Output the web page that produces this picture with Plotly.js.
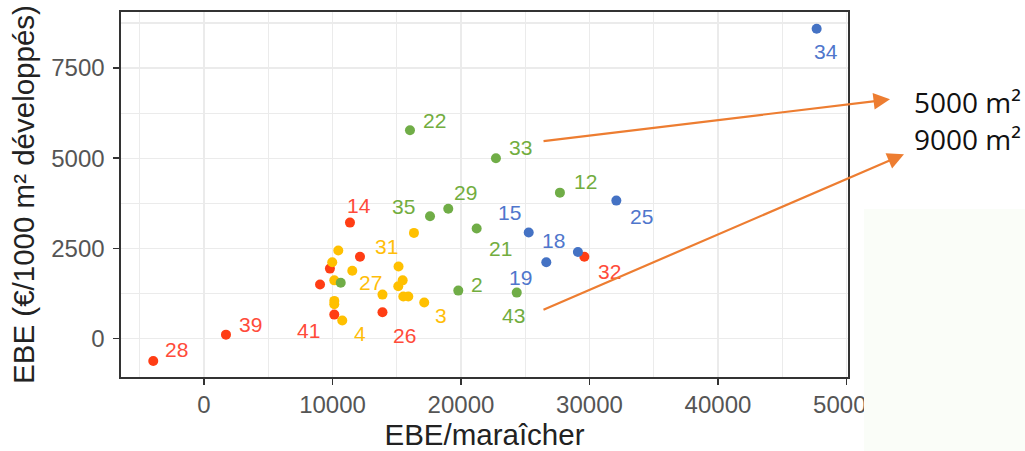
<!DOCTYPE html>
<html>
<head>
<meta charset="utf-8">
<script src="https://cdn.plot.ly/plotly-3.0.1.min.js"></script>
<style>html,body{margin:0;padding:0;background:#fff;}#chart{width:1025px;height:451px;}</style>
</head>
<body>
<div id="chart"></div>
<script>
// ---- data ----
const redX = [-3950, 1710, 10140, 9800, 9030, 11360, 12140, 13890, 29600];
const redY = [-620, 110, 665, 1940, 1500, 3215, 2270, 730, 2270];
const redLab = ["28", "39", "41", "", "", "14", "", "26", "32"];

const yellowX = [10450, 9980, 10140, 10140, 10140, 10760, 11540, 13890, 15140, 15460, 15120, 15510, 15900, 16340, 17140];
const yellowY = [2440, 2115, 1615, 1045, 950, 500, 1880, 1220, 2000, 1615, 1450, 1165, 1165, 2930, 1000];
const yellowLab = ["", "", "", "", "", "4", "27", "", "31", "", "", "", "", "", "3"];

const greenX = [10640, 17590, 19010, 21220, 19790, 16030, 27700, 24340, 22720];
const greenY = [1550, 3390, 3600, 3050, 1330, 5775, 4045, 1275, 5000];
const greenLab = ["", "35", "29", "21", "2", "22", "12", "43", "33"];

const blueX = [47680, 32090, 25270, 26640, 29100];
const blueY = [8590, 3825, 2940, 2115, 2400];
const blueLab = ["34", "25", "15", "19", "18"];

const xTickVals = [0, 10000, 20000, 30000, 40000, 50000];
const xTickText = ["0", "10000", "20000", "30000", "40000", "50000"];
const yTickVals = [0, 2500, 5000, 7500];
const yTickText = ["0", "2500", "5000", "7500"];

const xTitle = "EBE/maraîcher";
const yTitle = "EBE (€/1000 m² développés)";
const sideLabels = ["5000 m²", "9000 m²"];

// ---- label placement (pixel offsets from each point: right, down) ----
const labelOffsets = {
  "28": [23, -11], "39": [25, -10], "41": [-26, 16], "14": [9, -17], "26": [22, 23], "32": [25, 15],
  "4": [18, 13], "27": [18, 12], "31": [-12, -20], "3": [17, 13],
  "35": [-27, -10], "29": [17, -16], "21": [24, 20], "2": [19, -6], "22": [25, -10], "12": [26, -11], "43": [-3, 23], "33": [25, -11],
  "34": [9, 23], "25": [25, 16], "15": [-19, -20], "19": [-26, 15], "18": [-24, -12]
};

const series = [
  {x: redX, y: redY, lab: redLab, color: "#FF3D14", textColor: "#FF4B3A"},
  {x: yellowX, y: yellowY, lab: yellowLab, color: "#FFC000", textColor: "#FFBE0A"},
  {x: greenX, y: greenY, lab: greenLab, color: "#70AD47", textColor: "#72AD3E"},
  {x: blueX, y: blueY, lab: blueLab, color: "#4472C4", textColor: "#4F76CC"}
];

const traces = series.map(s => ({
  type: "scatter", mode: "markers", x: s.x, y: s.y,
  marker: {color: s.color, size: 10},
  hoverinfo: "x+y", showlegend: false, cliponaxis: false
}));

const annotations = [];
series.forEach(s => {
  s.lab.forEach((t, i) => {
    if (!t) return;
    const off = labelOffsets[t] || [15, -10];
    annotations.push({
      x: s.x[i], y: s.y[i], xref: "x", yref: "y", text: t, showarrow: false,
      xshift: off[0], yshift: -off[1], xanchor: "center", yanchor: "middle",
      font: {family: "Liberation Sans, Arial, sans-serif", size: 21, color: s.textColor}
    });
  });
});

// arrows out of the plot toward the side labels
const arrowColor = "#ED7D31";
annotations.push({
  x: 1.0578, y: 0.7608, xref: "paper", yref: "paper", text: "", showarrow: true,
  ax: -348, ay: 42, axref: "pixel", ayref: "pixel",
  arrowhead: 2, arrowsize: 1.5, arrowwidth: 2.2, arrowcolor: arrowColor
});
annotations.push({
  x: 1.0770, y: 0.6101, xref: "paper", yref: "paper", text: "", showarrow: true,
  ax: -362, ay: 156, axref: "pixel", ayref: "pixel",
  arrowhead: 2, arrowsize: 1.5, arrowwidth: 2.2, arrowcolor: arrowColor
});
annotations.push({
  x: 1.088, y: 0.7542, xref: "paper", yref: "paper", text: sideLabels[0], showarrow: false,
  xanchor: "left", yanchor: "middle",
  font: {family: "Open Sans, Noto Sans, sans-serif", size: 28, color: "#111"}
});
annotations.push({
  x: 1.088, y: 0.652, xref: "paper", yref: "paper", text: sideLabels[1], showarrow: false,
  xanchor: "left", yanchor: "middle",
  font: {family: "Open Sans, Noto Sans, sans-serif", size: 28, color: "#111"}
});

const tickFont = {family: "Liberation Sans, Arial, sans-serif", size: 24, color: "#555"};
const titleFont = {family: "Liberation Sans, Arial, sans-serif", size: 29.5, color: "#222"};

const layout = {
  width: 1025, height: 451,
  margin: {l: 121, r: 177, t: 12, b: 74, pad: 0},
  paper_bgcolor: "#fff", plot_bgcolor: "#fff",
  showlegend: false,
  xaxis: {
    range: [-6460, 50120], tickmode: "array", tickvals: xTickVals, ticktext: xTickText,
    showgrid: true, gridcolor: "#ebebeb", gridwidth: 1.2,
    minor: {dtick: 5000, tick0: 0, showgrid: true, gridcolor: "#ebebeb", gridwidth: 1.2},
    zeroline: false, showline: true, mirror: true, linecolor: "#333", linewidth: 1.6,
    ticks: "outside", ticklen: 6, tickcolor: "#333", tickwidth: 1.5,
    tickfont: tickFont,
    title: {text: xTitle, font: titleFont, standoff: 3}
  },
  yaxis: {
    range: [-1064, 9052], tickmode: "array", tickvals: yTickVals, ticktext: yTickText,
    showgrid: true, gridcolor: "#ebebeb", gridwidth: 1.2,
    minor: {dtick: 1250, tick0: 0, showgrid: true, gridcolor: "#ebebeb", gridwidth: 1.2},
    zeroline: false, showline: true, mirror: true, linecolor: "#333", linewidth: 1.6,
    ticks: "outside", ticklen: 6, tickcolor: "#333", tickwidth: 1.5,
    ticklabelstandoff: 4,
    tickfont: tickFont,
    title: {text: yTitle, font: titleFont, standoff: 8}
  },
  shapes: [{
    type: "rect", xref: "paper", yref: "paper", x0: 1.022, x1: 1.25, y0: 0.46, y1: -0.25,
    fillcolor: "#fafdf8", line: {width: 0}, layer: "above"
  }],
  annotations: annotations
};

Plotly.newPlot("chart", traces, layout, {displayModeBar: false, staticPlot: true});
</script>
</body>
</html>
